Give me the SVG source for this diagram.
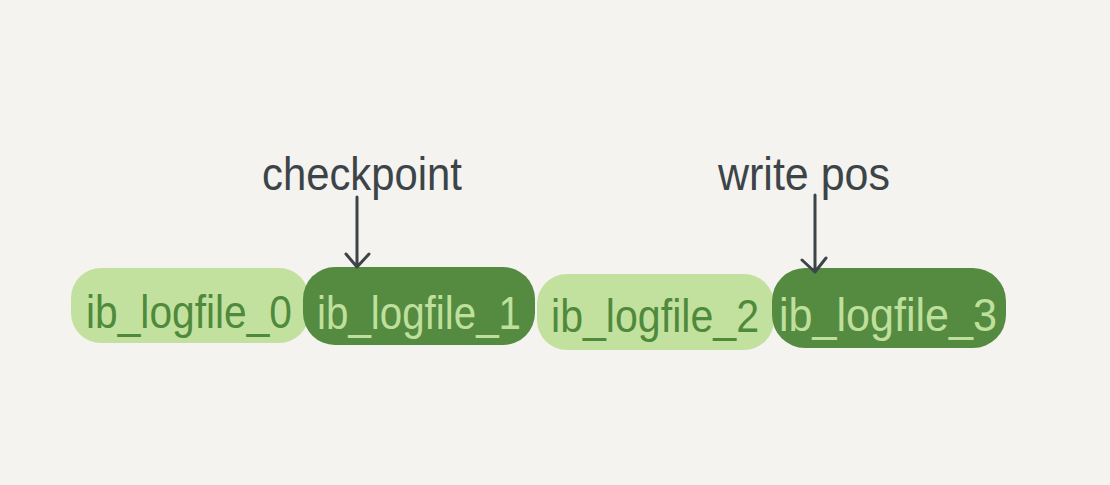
<svg xmlns="http://www.w3.org/2000/svg" width="1110" height="485" viewBox="0 0 1110 485">
<style>
.light{fill:#c3e19e}
.dark{fill:#558a41}
.lbl{font-family:"Liberation Sans","DejaVu Sans",sans-serif;font-size:47px;text-anchor:middle}
.tl{fill:#4f8a3c}
.td{fill:#bfe09c}
.ptr{font-family:"Liberation Sans","DejaVu Sans",sans-serif;font-size:46px;fill:#3d4448;text-anchor:middle}
.arr{stroke:#3d4448;stroke-width:3;fill:none;stroke-linecap:round;stroke-linejoin:round}
</style>
<rect width="1110" height="485" fill="#f4f3ef"/>
<g id="file0">
<rect class="light" x="71" y="268" width="238" height="75" rx="30"/>
<text class="lbl tl" x="189" y="328" textLength="206" lengthAdjust="spacingAndGlyphs">ib_logfile_0</text>
</g>
<g id="file1">
<rect class="dark" x="303" y="267" width="232" height="78" rx="32"/>
<text class="lbl td" x="419" y="329" textLength="204" lengthAdjust="spacingAndGlyphs">ib_logfile_1</text>
</g>
<g id="file2">
<rect class="light" x="537" y="274" width="237" height="76" rx="30"/>
<text class="lbl tl" x="655" y="332" textLength="208" lengthAdjust="spacingAndGlyphs">ib_logfile_2</text>
</g>
<g id="file3">
<rect class="dark" x="772" y="268" width="234" height="80" rx="33"/>
<text class="lbl td" x="888" y="331" textLength="218" lengthAdjust="spacingAndGlyphs">ib_logfile_3</text>
</g>
<g id="checkpoint">
<text class="ptr" x="362" y="190" textLength="200" lengthAdjust="spacingAndGlyphs">checkpoint</text>
</g>
<g id="writepos">
<text class="ptr" x="804" y="190" textLength="172" lengthAdjust="spacingAndGlyphs">write pos</text>
</g>
<g id="connectors">
<path class="arr" d="M357 197 L357 267 M346 254 L357 267 L369 254"/>
<path class="arr" d="M815 195 L815 272 M802 260 L815 272 L826 258"/>
</g>
</svg>
